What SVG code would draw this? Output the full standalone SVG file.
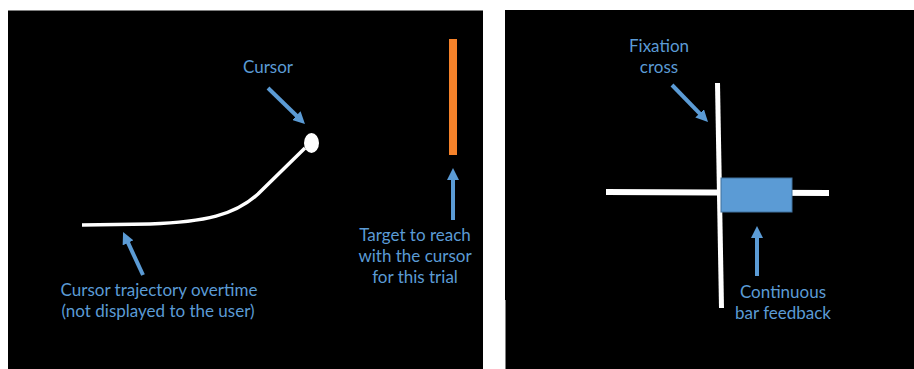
<svg xmlns="http://www.w3.org/2000/svg" width="914" height="369" viewBox="0 0 914 369">
<style>
.lbl{font-family:Lato,"Open Sans","Liberation Sans",sans-serif;font-size:17px;fill:#5B9BD5;text-anchor:middle}
.arr{stroke:#5B9BD5;stroke-width:4;fill:none;marker-end:url(#ah)}
.wl{fill:#FFFFFF}
</style>
<defs>
<marker id="ah" viewBox="0 0 10 10" refX="2" refY="5" markerWidth="3" markerHeight="3" orient="auto" markerUnits="strokeWidth">
<path d="M0,0 L10,5 L0,10 z" fill="#5B9BD5"/>
</marker>
</defs>
<rect width="914" height="369" fill="#FFFFFF"/>
<g id="panel-left">
<rect x="8" y="10" width="475" height="359" fill="#000000"/>
<line x1="8" y1="10.5" x2="483" y2="10.5" stroke="#7F7F7F" stroke-width="1"/>
</g>
<g id="panel-right">
<rect x="505" y="10" width="409" height="359" fill="#000000"/>
<line x1="505.5" y1="300" x2="505.5" y2="369" stroke="#7F7F7F" stroke-width="1"/>
</g>
<g id="trajectory">
<path d="M82,225 L150,224 C205,222 235,215 258,194 L305,148" stroke="#FFFFFF" stroke-width="3.5" fill="none" stroke-linejoin="round"/>
</g>
<g id="cursor">
<ellipse cx="311.5" cy="143" rx="7.5" ry="10" fill="#FFFFFF"/>
</g>
<g id="target">
<rect x="449" y="39" width="8" height="116" fill="#F5822A"/>
</g>
<g id="fixation-cross">
<polygon points="715,83 720,83 724,308 719,308" class="wl"/>
<polygon points="606,189 829,190 829,196 606,195" class="wl"/>
</g>
<g id="bar-feedback">
<rect x="721" y="178" width="71" height="34" fill="#5B9BD5" stroke="#41719C" stroke-width="1"/>
</g>
<g id="connectors">
<line x1="268" y1="88" x2="298.1" y2="117.3" class="arr"/>
<line x1="143" y1="275" x2="127.1" y2="240.7" class="arr"/>
<line x1="453" y1="220" x2="453" y2="177.6" class="arr"/>
<line x1="672" y1="85" x2="701.3" y2="115.1" class="arr"/>
<line x1="757" y1="276" x2="757" y2="235.6" class="arr"/>
</g>
<g id="labels">
<text class="lbl" x="268" y="73">Cursor</text>
<text class="lbl" x="159" y="296">Cursor trajectory overtime</text>
<text class="lbl" x="158" y="317">(not displayed to the user)</text>
<text class="lbl" x="415" y="241">Target to reach</text>
<text class="lbl" x="415" y="262">with the cursor</text>
<text class="lbl" x="415" y="283">for this trial</text>
<text class="lbl" x="659" y="52">Fixation</text>
<text class="lbl" x="659" y="73">cross</text>
<text class="lbl" x="783" y="298">Continuous</text>
<text class="lbl" x="783" y="319">bar feedback</text>
</g>
</svg>
